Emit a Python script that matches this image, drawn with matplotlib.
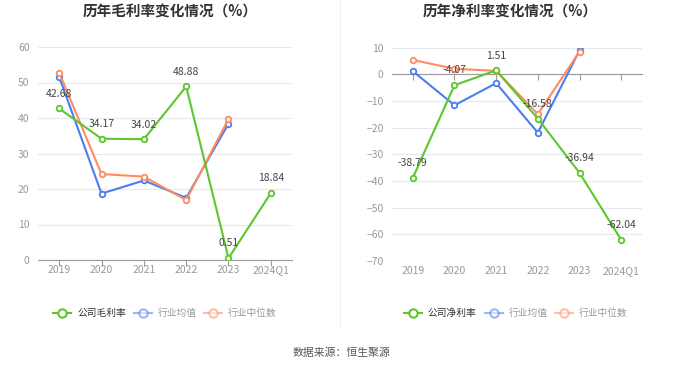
import matplotlib
matplotlib.use('Agg')
import matplotlib.pyplot as plt
from matplotlib.lines import Line2D

plt.rcParams['font.family'] = ['Noto Sans CJK SC', 'DejaVu Sans']

years = ['2019', '2020', '2021', '2022', '2023', '2024Q1']

# 毛利率
gross_company = [42.68, 34.17, 34.02, 48.88, 0.51, 18.84]
gross_avg = [51.6, 18.7, 22.4, 17.5, 38.4]
gross_median = [52.8, 24.2, 23.5, 16.9, 39.7]

# 净利率
net_company = [-38.79, -4.07, 1.51, -16.58, -36.94, -62.04]
net_avg = [1.2, -11.6, -3.3, -21.9, 9.0]
net_median = [5.4, 2.1, 1.3, -14.9, 8.5]

GREEN = '#5cc72c'
BLUE = '#4a7ef0'
ORANGE = '#ff8c5f'
GRID = '#e6e9f2'
TICK = '#999999'

fig = plt.figure(figsize=(6.8, 3.67), dpi=100)
W, H = 680, 367


def add_ax(x0, x1, y0, y1):
    return fig.add_axes([x0 / W, 1 - y1 / H, (x1 - x0) / W, (y1 - y0) / H])


def draw(ax, comp, avg, med, ylim, yticks):
    x = list(range(len(years)))
    for vals, c in ((avg, BLUE), (med, ORANGE), (comp, GREEN)):
        ax.plot(x[:len(vals)], vals, color=c, lw=1.5, marker='o', ms=4,
                mfc='white', mec=c, mew=1.3, zorder=3)
    for xi, v in zip(x, comp):
        ax.annotate(f'{v:.2f}', (xi, v), xytext=(0, 7), textcoords='offset points',
                    ha='center', va='bottom', fontsize=7.5, color='#444444', zorder=4)
    ax.set_xlim(-0.5, len(years) - 0.5)
    ax.set_ylim(*ylim)
    ax.set_yticks(yticks)
    ax.set_xticks(x)
    for s in ('top', 'right', 'left'):
        ax.spines[s].set_visible(False)
    ax.spines['bottom'].set_position(('data', 0))
    ax.spines['bottom'].set_color('#999999')
    ax.grid(axis='y', color=GRID, lw=0.8)
    ax.set_axisbelow(True)
    ax.tick_params(axis='y', length=0, colors=TICK, labelsize=7.5, pad=6)
    ax.tick_params(axis='x', length=4, color='#999999', labelbottom=False)
    # category labels always sit under the plot area
    below = ylim[0] - (ylim[1] - ylim[0]) * 0.025
    for xi, y in enumerate(years):
        ax.text(xi, below, y, ha='center', va='top', fontsize=7.5, color=TICK)


ax1 = add_ax(38, 292, 47, 260)
draw(ax1, gross_company, gross_avg, gross_median, (0, 60), range(0, 61, 10))

ax2 = add_ax(392, 642, 47.7, 261)
draw(ax2, net_company, net_avg, net_median, (-70, 10), range(-70, 11, 10))

fig.text(170 / W, 1 - 12 / H, '历年毛利率变化情况（%）', ha='center', va='center',
         fontsize=10.5, fontweight='bold', color='#333333')
fig.text(510 / W, 1 - 12 / H, '历年净利率变化情况（%）', ha='center', va='center',
         fontsize=10.5, fontweight='bold', color='#333333')

# divider
fig.add_artist(Line2D([340 / W, 340 / W], [1 - 325 / H, 1.0], color='#eeeeee', lw=0.8))


def legend(xs, name):
    items = [(name, GREEN, '#333333', 1.0), ('行业均值', BLUE, '#999999', 0.55),
             ('行业中位数', ORANGE, '#999999', 0.55)]
    yy = 1 - 313 / H
    for (lab, c, tc, a), x in zip(items, xs):
        fig.add_artist(Line2D([(x - 9) / W, (x + 9) / W], [yy, yy], color=c, lw=1.5, alpha=a))
        fig.add_artist(Line2D([x / W], [yy], color=c, marker='o', ms=6, mfc='white',
                              mec=c, mew=1.5, alpha=a))
        fig.text((x + 15) / W, yy, lab, ha='left', va='center', fontsize=7, color=tc)


legend([62, 143, 213], '公司毛利率')
legend([413, 494, 564], '公司净利率')

fig.text(342 / W, 1 - 353 / H, '数据来源：恒生聚源', ha='center', va='center',
         fontsize=7.8, color='#555555')

fig.savefig('out.png', dpi=100)
